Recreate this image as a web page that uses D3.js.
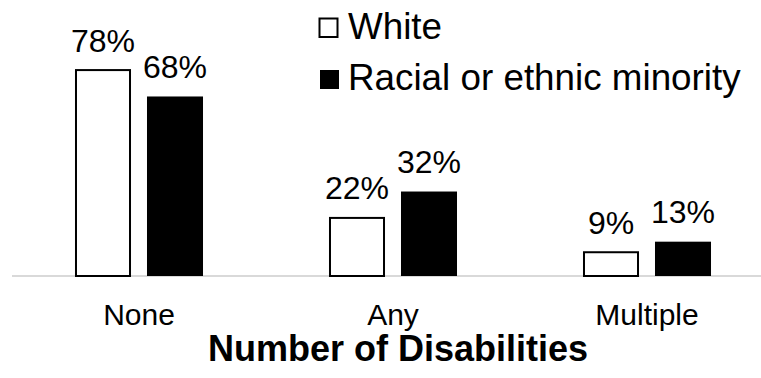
<!DOCTYPE html>
<html>
<head>
<meta charset="utf-8">
<script src="https://cdn.jsdelivr.net/npm/d3@7"></script>
<style>
  html, body { margin: 0; padding: 0; background: #fff; }
  svg { display: block; font-family: "Liberation Sans", Arial, sans-serif; }
</style>
</head>
<body>
<svg id="chart" width="761" height="378"></svg>
<script>
const categories = ["None", "Any", "Multiple"];
const seriesNames = ["White", "Racial or ethnic minority"];
const whiteValues = [78, 22, 9];
const minorityValues = [68, 32, 13];
const axisTitle = "Number of Disabilities";

const W = 761, H = 378;
const svg = d3.select("#chart");

const data = categories.map((c, i) => ({
  cat: c,
  vals: [
    { s: seriesNames[0], v: whiteValues[i] },
    { s: seriesNames[1], v: minorityValues[i] }
  ]
}));

const x0 = d3.scaleBand().domain(categories).range([12, 774]);
const bw = x0.bandwidth();
const x1 = d3.scaleBand().domain(seriesNames)
  .range([bw * 0.248, bw * 0.752]).paddingInner(0.222).paddingOuter(0);
const y = d3.scaleLinear().domain([0, 100]).range([276, 12]);

const fill = d3.scaleOrdinal().domain(seriesNames).range(["#ffffff", "#000000"]);

// baseline axis
svg.append("line")
  .attr("x1", 12).attr("x2", W)
  .attr("y1", y(0)).attr("y2", y(0))
  .attr("stroke", "#d9d9d9").attr("stroke-width", 2);

const groups = svg.selectAll("g.grp").data(data).join("g")
  .attr("class", "grp")
  .attr("transform", d => `translate(${x0(d.cat)},0)`);

groups.selectAll("rect").data(d => d.vals).join("rect")
  .attr("x", d => x1(d.s) + (d.s === seriesNames[0] ? 1 : 0))
  .attr("width", d => x1.bandwidth() - (d.s === seriesNames[0] ? 2 : 0))
  .attr("y", d => y(d.v))
  .attr("height", d => y(0) - y(d.v))
  .attr("fill", d => fill(d.s))
  .attr("stroke", d => d.s === seriesNames[0] ? "#000" : "none")
  .attr("stroke-width", 2);

groups.selectAll("text.val").data(d => d.vals).join("text")
  .attr("class", "val")
  .attr("x", d => x1(d.s) + x1.bandwidth() / 2)
  .attr("y", d => y(d.v) - 18.5)
  .attr("text-anchor", "middle")
  .attr("font-size", 32)
  .attr("fill", "#000")
  .text(d => d.v + "%");

// category labels
svg.selectAll("text.cat").data(categories).join("text")
  .attr("class", "cat")
  .attr("x", d => x0(d) + bw / 2)
  .attr("y", 325)
  .attr("text-anchor", "middle")
  .attr("font-size", 30)
  .attr("fill", "#000")
  .text(d => d);

// axis title
svg.append("text")
  .attr("x", 398).attr("y", 361)
  .attr("text-anchor", "middle")
  .attr("font-size", 36)
  .attr("font-weight", "bold")
  .attr("fill", "#000")
  .text(axisTitle);

// legend
const legY = [0, 51];
const leg = svg.selectAll("g.leg").data(seriesNames).join("g")
  .attr("class", "leg")
  .attr("transform", (d, i) => `translate(0, ${legY[i]})`);
leg.append("rect")
  .attr("x", (d, i) => i === 0 ? 319.5 : 320)
  .attr("y", (d, i) => i === 0 ? 18.5 : 19)
  .attr("width", (d, i) => i === 0 ? 18 : 19)
  .attr("height", (d, i) => i === 0 ? 18.5 : 19)
  .attr("fill", d => fill(d))
  .attr("stroke", (d, i) => i === 0 ? "#000" : "none")
  .attr("stroke-width", 2);
leg.append("text")
  .attr("x", 348)
  .attr("y", 39)
  .attr("font-size", 36.8)
  .attr("fill", "#000")
  .text(d => d);
</script>
</body>
</html>
